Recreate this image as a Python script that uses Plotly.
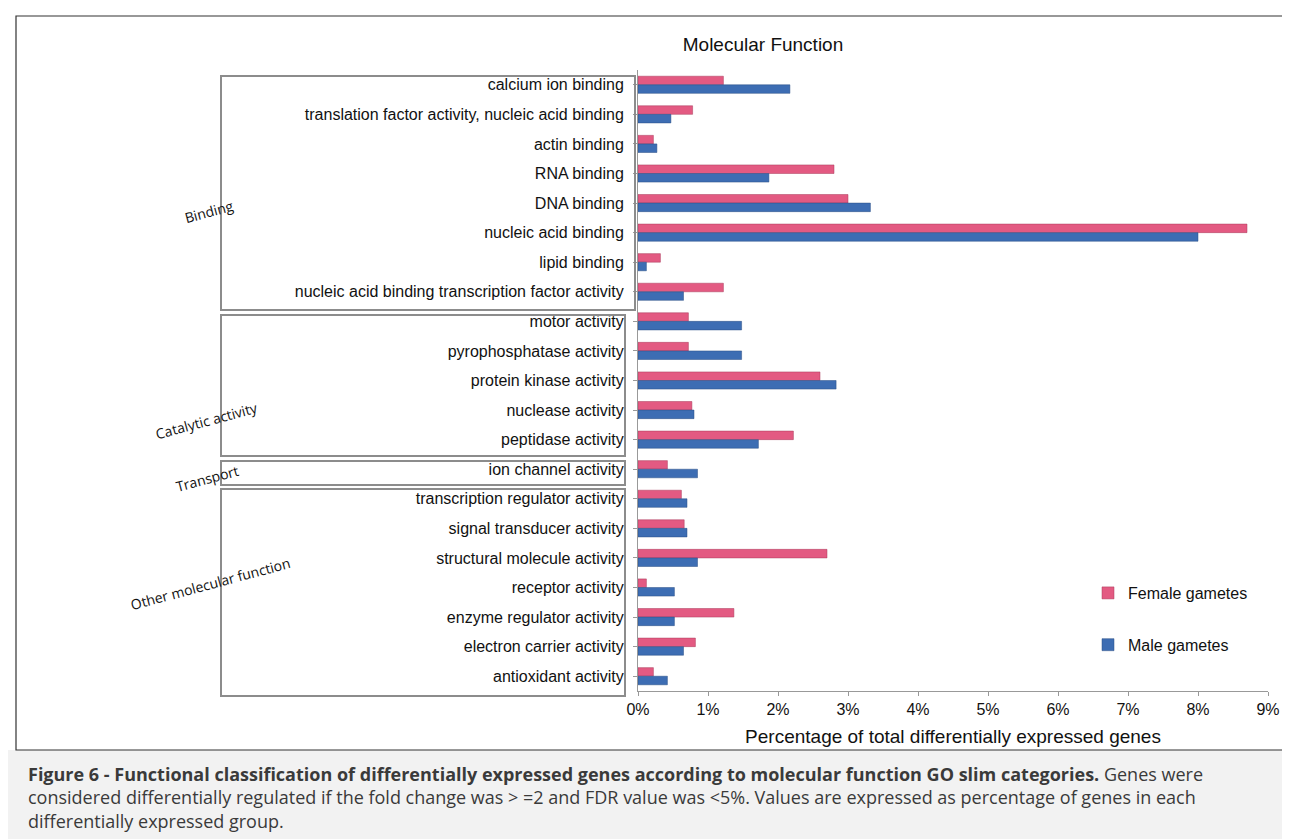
import plotly.graph_objects as go

categories = [
    "calcium ion binding", "translation factor activity, nucleic acid binding",
    "actin binding", "RNA binding", "DNA binding", "nucleic acid binding",
    "lipid binding", "nucleic acid binding transcription factor activity",
    "motor activity", "pyrophosphatase activity", "protein kinase activity",
    "nuclease activity", "peptidase activity", "ion channel activity",
    "transcription regulator activity", "signal transducer activity",
    "structural molecule activity", "receptor activity",
    "enzyme regulator activity", "electron carrier activity", "antioxidant activity",
]
female = [1.22, 0.78, 0.22, 2.8, 3.0, 8.7, 0.32, 1.22, 0.72, 0.72, 2.6, 0.77, 2.22,
          0.42, 0.62, 0.66, 2.7, 0.12, 1.37, 0.82, 0.22]
male = [2.17, 0.47, 0.27, 1.87, 3.32, 8.0, 0.12, 0.65, 1.48, 1.48, 2.83, 0.8, 1.72,
        0.85, 0.7, 0.7, 0.85, 0.52, 0.52, 0.65, 0.42]

L, R, T, B = 630, 1260, 62, 683
def px(x): return (x - L) / (R - L)
def py(y): return (B - y) / (B - T)

fig = go.Figure()
fig.add_trace(go.Bar(y=categories, x=[v / 100 for v in female], name="Female gametes", legendgroup="f",
                     orientation="h", marker=dict(color="#e35a82", line=dict(color="#a83a5a", width=0.5))))
fig.add_trace(go.Bar(y=categories, x=[v / 100 for v in male], name="Male gametes", legendgroup="m",
                     orientation="h", marker=dict(color="#3d6db3", line=dict(color="#2b4f85", width=0.5))))

shapes = []
shapes.append(dict(type="rect", xref="paper", yref="paper", x0=px(0), x1=px(1290), y0=py(839), y1=py(742),
                   fillcolor="#f2f2f2", line=dict(width=0), layer="below"))
shapes.append(dict(type="rect", xref="paper", yref="paper", x0=px(8), x1=px(1289), y0=py(742), y1=py(8),
                   line=dict(color="#333", width=1.2)))
for x0, y0, x1, y1 in [(213, 68, 627, 302), (213, 307, 617, 448), (213, 453, 617, 477), (213, 481, 617, 688)]:
    shapes.append(dict(type="rect", xref="paper", yref="paper", x0=px(x0), x1=px(x1), y0=py(y1), y1=py(y0),
                       line=dict(color="#8c8c8c", width=2)))

annotations = []
for text, x, y in [("Binding", 172, 185), ("Catalytic activity", 143, 412),
                   ("Transport", 163, 470), ("Other molecular function", 118, 608)]:
    annotations.append(dict(text=text, x=px(x), y=py(y), xref="paper", yref="paper", showarrow=False,
                            textangle=-15, font=dict(family="Open Sans", size=14, color="#111")))
caption = ("<b>Figure 6 - Functional classification of differentially expressed genes according to molecular function GO slim categories.</b>"
           " Genes were<br>considered differentially regulated if the fold change was > =2 and FDR value was <5%. Values are expressed as percentage of genes in each<br>"
           "differentially expressed group.")
annotations.append(dict(text=caption, x=px(18), y=py(752), xref="paper", yref="paper", showarrow=False,
                        xanchor="left", yanchor="top", align="left",
                        font=dict(family="Open Sans", size=18, color="#3a3a3a")))

fig.update_layout(
    width=1290, height=839, margin=dict(l=L, r=1290 - R, t=T, b=839 - B),
    paper_bgcolor="white", plot_bgcolor="white",
    font=dict(family="Liberation Sans, Arial", size=16, color="#111"),
    title=dict(text="Molecular Function", x=755 / 1290, xanchor="center", y=1 - 36 / 839, yanchor="middle",
               font=dict(size=19)),
    barmode="group", bargap=0.42, bargroupgap=0,
    legend=dict(x=px(1080), y=py(568), xanchor="left", yanchor="top",
                tracegroupgap=28, font=dict(size=16), bgcolor="rgba(0,0,0,0)", itemwidth=30),
    shapes=shapes, annotations=annotations,
)
fig.update_xaxes(range=[0, 0.09], dtick=0.01, tickformat=".0%", showgrid=False, showline=True,
                 linecolor="#999", ticks="outside", ticklen=4, tickcolor="#999",
                 title=dict(text="Percentage of total differentially expressed genes", font=dict(size=19), standoff=12))
fig.update_yaxes(autorange="reversed", showline=True, linecolor="#999", ticks="outside", ticklen=4,
                 tickcolor="#999", ticklabelstandoff=6)

fig.write_html("out.html")
